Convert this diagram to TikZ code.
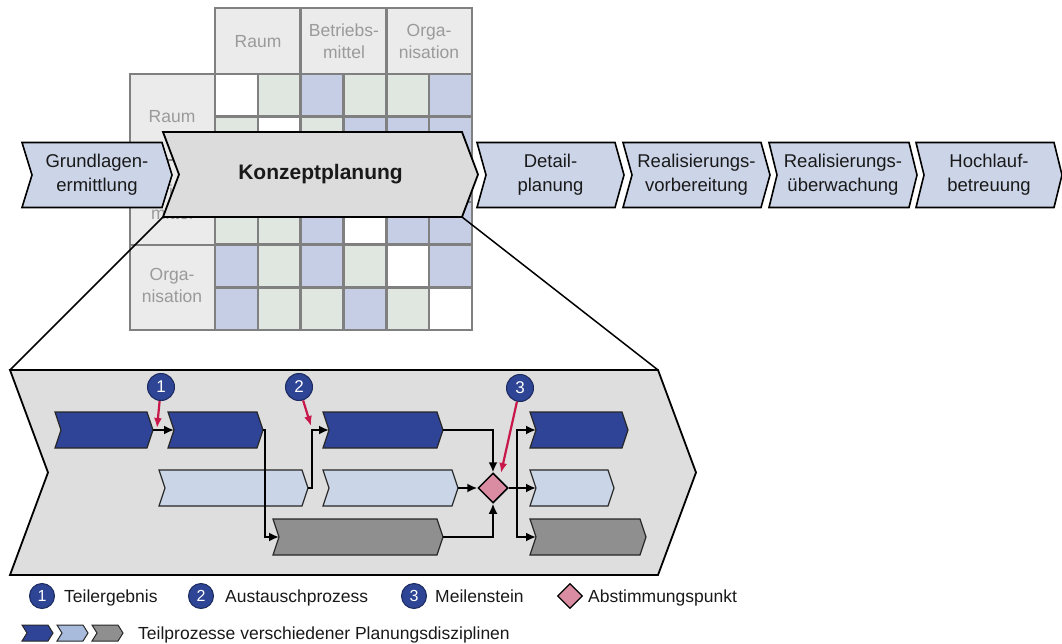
\documentclass[tikz,border=0pt]{standalone}
\usepackage{fontspec}
\setmainfont{Liberation Sans}
\usetikzlibrary{arrows.meta,shapes.geometric}

\definecolor{phaseblue}{HTML}{CCD5E8}
\definecolor{konzgray}{HTML}{DCDCDC}
\definecolor{panelgray}{HTML}{DEDEDE}
\definecolor{procdark}{HTML}{2F4496}
\definecolor{proclight}{HTML}{CBD5E8}
\definecolor{procgray}{HTML}{8F8F8F}
\definecolor{legendlight}{HTML}{A9BBDD}
\definecolor{numblue}{HTML}{2E4494}
\definecolor{numrim}{HTML}{1C2A5E}
\definecolor{votepink}{HTML}{D98CA2}
\definecolor{hintred}{HTML}{C8174A}
\definecolor{gridgray}{HTML}{808080}
\definecolor{headgray}{HTML}{EBEBEB}
\definecolor{cellgreen}{HTML}{E0E6E0}
\definecolor{cellblue}{HTML}{C6CEE6}
\definecolor{labelgray}{HTML}{9A9A9A}

\tikzset{
  chw/.store in=\chW, chh/.store in=\chH, chd/.store in=\chD, cht/.store in=\chT,
  chw=100, chh=36, chd=6, cht={},
  chevtext/.style={align=center, inner sep=0pt, text=black!90,
    font=\fontsize{18.5}{24}\selectfont},
  chevron/.pic={
    \path[pic actions] (0,0) -- (\chW,0) -- ({\chW+\chD},{\chH/2}) -- (\chW,\chH)
      -- (0,\chH) -- (\chD,{\chH/2}) -- cycle;
    \coordinate (-nw) at (0,0);
    \coordinate (-ne) at (\chW,0);
    \coordinate (-sw) at (0,\chH);
    \coordinate (-se) at (\chW,\chH);
    \coordinate (-tip) at ({\chW+\chD},{\chH/2});
    \coordinate (-notch) at (\chD,{\chH/2});
    \node[chevtext] (-text) at ({(\chW+\chD)/2},{\chH/2}) {\chT};
  },
  phasechev/.style={draw=black, fill=phaseblue, line width=1.6pt, chh=65},
  subchev/.style={draw=black!85, line width=1.2pt, chh=36, chd=6},
  subdark/.style={subchev, fill=procdark},
  sublight/.style={subchev, fill=proclight},
  subgray/.style={subchev, fill=procgray},
  legchev/.style={draw=black!85, line width=1pt, chh=16, chw=26, chd=5},
  mlabel/.style={align=center, inner sep=0pt, text=labelgray,
    font=\fontsize{17.5}{22}\selectfont},
  numcirc/.style={circle, fill=numblue, draw=numrim, line width=1pt, text=white,
    minimum size=27pt, inner sep=0pt, font=\fontsize{17}{17}\selectfont},
  vote/.style={diamond, fill=votepink, draw=black, line width=1.5pt,
    minimum width=30pt, minimum height=30pt, inner sep=0pt},
  conn/.style={line width=1.8pt, -{Latex[length=10pt,width=9pt]}},
  hint/.style={hintred, line width=2.2pt, -{Latex[length=10pt,width=8pt]}},
  legtext/.style={anchor=base west, inner sep=0pt, text=black!90,
    font=\fontsize{17.5}{21}\selectfont},
}

\begin{document}
\begin{tikzpicture}[x=1pt, y=-1pt]
\useasboundingbox (0,0) rectangle (1062,644);

% ---------- interface matrix ----------
\fill[headgray] (215,8) rectangle (472,74);
\fill[headgray] (130,74) rectangle (215,330);
\foreach \row [count=\r from 0] in {
    {white,cellgreen,cellblue,cellgreen,cellgreen,cellblue},
    {cellgreen,white,cellgreen,cellblue,cellblue,cellblue},
    {cellblue,cellgreen,white,cellgreen,cellblue,cellblue},
    {cellgreen,cellgreen,cellblue,white,cellblue,cellblue},
    {cellblue,cellgreen,cellblue,cellgreen,white,cellblue},
    {cellblue,cellgreen,cellgreen,cellblue,cellgreen,white}}{
  \foreach \col [count=\c from 0] in \row
    \fill[fill=\col] ({215+42.833*\c},{74+42.667*\r}) rectangle ++(42.833,42.667);
}
\begin{scope}[gridgray, line width=2.5pt]
  \draw (215,8) rectangle (472,330);
  \draw (130,74) rectangle (215,330);
  \draw (300.7,8) -- (300.7,74) (386.3,8) -- (386.3,74);
  \foreach \c in {1,...,5} \draw ({215+42.833*\c},74) -- ++(0,256);
  \foreach \r in {1,...,5} \draw (215,{74+42.667*\r}) -- ++(257,0);
  \draw (130,160) -- (215,160) (130,245) -- (215,245);
  \draw (130,74) -- (472,74);
\end{scope}
\node[mlabel] (hc1) at (258,42) {Raum};
\node[mlabel] (hc2) at (344,41) {Betriebs-\\mittel};
\node[mlabel] (hc3) at (429,41) {Orga-\\nisation};
\node[mlabel] (hr1) at (172,117) {Raum};
\node[mlabel] (hr2) at (172,202) {Betriebs-\\mittel};
\node[mlabel] (hr3) at (172,285) {Orga-\\nisation};

% ---------- planning phases ----------
\pic[phasechev, chw=140, chd=10, cht={Grundlagen-\\ermittlung}] (GL) at (22,142.5) {chevron};
\pic[draw=black, fill=konzgray, line width=1.8pt, chw=299, chh=85, chd=16,
     cht={Konzeptplanung},
     chevtext/.append style={font=\fontsize{21}{25}\selectfont\bfseries}] (K) at (163,132) {chevron};
\pic[phasechev, chw=138, chd=9, cht={Detail-\\planung}] (DP) at (477,142.5) {chevron};
\pic[phasechev, chw=138, chd=9, cht={Realisierungs-\\vorbereitung}] (RV) at (623,142.5) {chevron};
\pic[phasechev, chw=140, chd=8, cht={Realisierungs-\\überwachung}] (RU) at (769,142.5) {chevron};
\pic[phasechev, chw=138, chd=8, cht={Hochlauf-\\betreuung}] (HB) at (916,142.5) {chevron};

% ---------- detail view of the concept phase ----------
\pic[draw=black, fill=panelgray, line width=1.8pt, chw=648, chh=205, chd=38] (P) at (10,370) {chevron};
\draw[line width=1.5pt] (K-sw) -- (P-nw);
\draw[line width=1.5pt] (K-se) -- (P-ne);

\pic[subdark,  chw=92]  (A) at (55,412)  {chevron};
\pic[subdark,  chw=89]  (B) at (168,412) {chevron};
\pic[sublight, chw=143] (C) at (159,470) {chevron};
\pic[subgray,  chw=164] (D) at (273,519) {chevron};
\pic[subdark,  chw=114] (E) at (323,412) {chevron};
\pic[sublight, chw=129] (F) at (323,470) {chevron};
\pic[subdark,  chw=92]  (G) at (530,412) {chevron};
\pic[sublight, chw=78]  (H) at (530,470) {chevron};
\pic[subgray,  chw=110] (I) at (530,519) {chevron};

\node[vote] (M) at (493,488) {};

\draw[conn] (A-tip) -- (B-notch);
\draw[conn] (B-tip) -- ++(2,0) |- (D-notch);
\draw[conn] (C-tip) -- ++(4,0) |- (E-notch);
\draw[conn] (E-tip) -| (M.north);
\draw[conn] (F-tip) -- (M.west);
\draw[conn] (D-tip) -| (M.south);
\draw[conn] (M.east) -- (H-notch);
\coordinate (split) at (517,488);
\draw[conn] (split) |- (G-notch);
\draw[conn] (split) |- (I-notch);

\node[numcirc] (n1) at (161,387) {1};
\node[numcirc] (n2) at (299,387) {2};
\node[numcirc] (n3) at (520,388) {3};
\coordinate (h1) at (157,428);
\coordinate (h2) at (311,426);
\coordinate (h3) at (501,473);
\draw[hint] (n1) -- (h1);
\draw[hint] (n2) -- (h2);
\draw[hint] (n3) -- (h3);

% ---------- legend ----------
\node[numcirc, minimum size=25pt, font=\fontsize{16}{16}\selectfont] (l1) at (42,596) {1};
\node[legtext] (t1) at (64,602) {Teilergebnis};
\node[numcirc, minimum size=25pt, font=\fontsize{16}{16}\selectfont] (l2) at (201,596) {2};
\node[legtext] (t2) at (225,602) {Austauschprozess};
\node[numcirc, minimum size=25pt, font=\fontsize{16}{16}\selectfont] (l3) at (414,596) {3};
\node[legtext] (t3) at (435,602) {Meilenstein};
\node[vote, minimum width=25pt, minimum height=25pt, line width=1.2pt] (l4) at (570,596) {};
\node[legtext] (t4) at (588,602) {Abstimmungspunkt};

\pic[legchev, fill=procdark]    (LA) at (22,625) {chevron};
\pic[legchev, fill=legendlight] (LB) at (57,625) {chevron};
\pic[legchev, fill=procgray]    (LC) at (92,625) {chevron};
\node[legtext] (t5) at (138,639) {Teilprozesse verschiedener Planungsdisziplinen};
\end{tikzpicture}
\end{document}
